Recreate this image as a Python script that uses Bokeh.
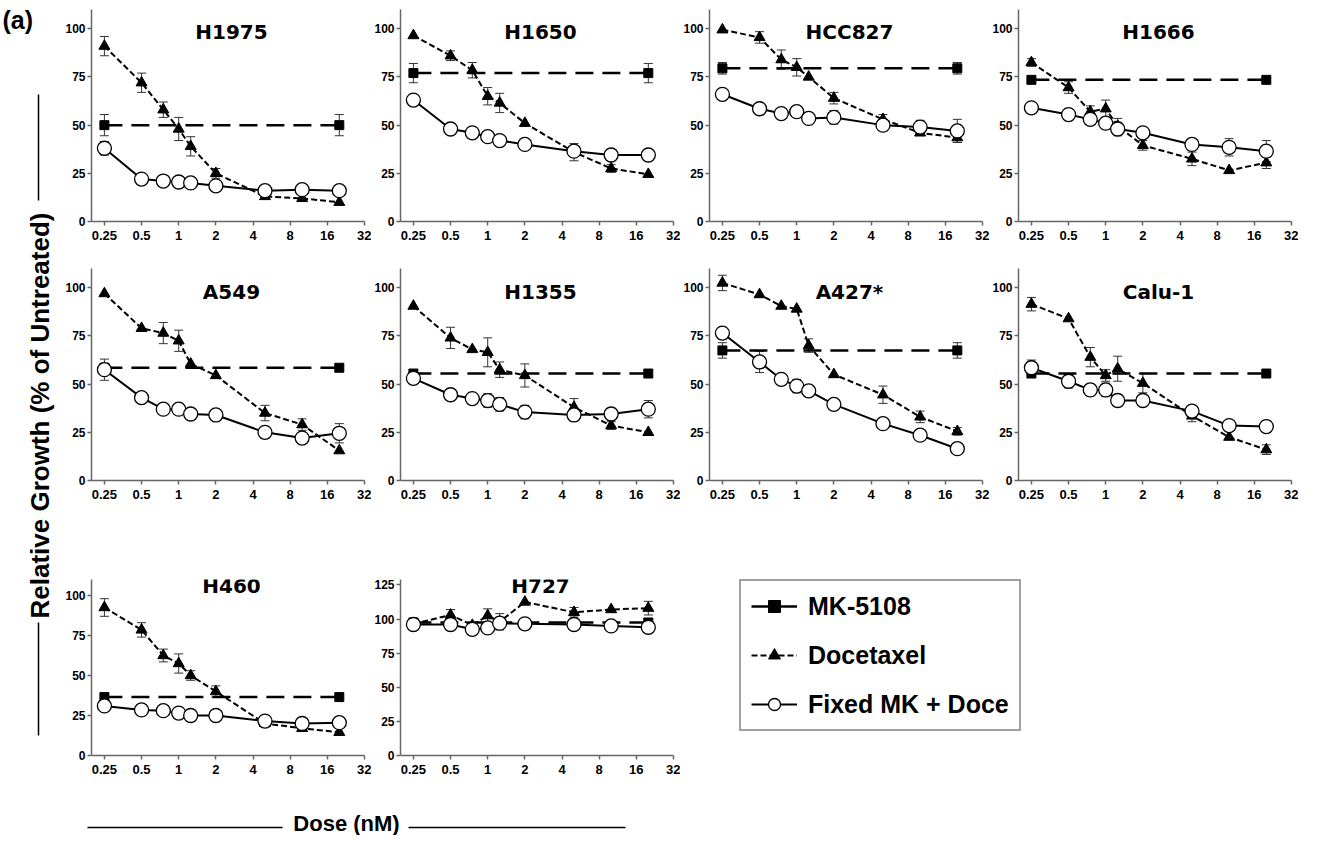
from bokeh.plotting import figure
from bokeh.layouts import row, column
from bokeh.models import (Range1d, FixedTicker, CustomJSTickFormatter, Label, Whisker,
                          TeeHead, ColumnDataSource, Legend, LegendItem)
from bokeh.embed import file_html
from bokeh.resources import INLINE

# ---------------- data ----------------
CELL_LINES = ["H1975", "H1650", "HCC827", "H1666", "A549", "H1355", "A427*", "Calu-1", "H460", "H727"]
DOSES = [0.25, 0.5, 0.75, 1, 1.25, 2, 5, 10, 20]
MK_DOSES = [0.25, 20]
X_TICKS = [0.25, 0.5, 1, 2, 4, 8, 16, 32]
Y_TICKS = [0, 25, 50, 75, 100]
Y_TICKS_H727 = [0, 25, 50, 75, 100, 125]

DOCETAXEL = [
    [91, 72, 58, 48, 39, 25, 13, 12, 10],
    [96.5, 86, 78.5, 65, 61.5, 51, 36, 27.5, 24.5],
    [99.5, 95.5, 84, 80, 75, 64, 53, 46, 43.5],
    [82.5, 69.5, 57, 58.5, 49.5, 39.5, 32.5, 26.5, 30.5],
    [97, 79, 76.5, 72.5, 60.5, 54.5, 35, 29, 15.5],
    [90.5, 74, 68, 66.5, 57.5, 54.5, 38, 28.5, 25],
    [102.5, 96.5, 90.5, 89, 70, 55, 44.5, 33, 25.5],
    [91.5, 84, 64, 54.5, 58, 50.5, 33.5, 22.5, 16],
    [92.5, 78.5, 62.5, 57.5, 50, 40, 20, 17, 14.5],
    [96.5, 103, 95.5, 102.5, 98, 112.5, 105, 107, 108],
]
DOCETAXEL_ERR = [
    [5, 5, 4, 6, 5, 2.5, 1.5, 0, 0],
    [0, 2.5, 4, 4.5, 5, 0, 4.5, 2, 0],
    [0, 3, 5, 4.5, 0, 3, 2.5, 0, 2.5],
    [2, 3, 3, 4.5, 4, 2.5, 3.5, 0, 3],
    [0, 0, 5.5, 5.5, 0, 0, 4, 3, 0],
    [0, 5.5, 0, 7.5, 4, 6, 4.5, 2, 0],
    [4, 0, 0, 0, 3.5, 0, 4.5, 3, 2],
    [3.5, 0, 5, 3, 6.5, 5, 3, 0, 2.5],
    [5.5, 4.5, 4, 6, 3, 3.5, 0, 0, 0],
    [0, 4, 0, 5, 6, 0, 3.5, 0, 5],
]
FIXED = [
    [38, 22, 21, 20.5, 20, 18.5, 16, 16.5, 16],
    [63, 48, 46, 44, 42, 40, 36.5, 34.5, 34.5],
    [66, 58.5, 56, 57, 53.5, 54, 50, 49, 47],
    [59, 55.5, 53, 51, 48, 46, 40, 38.5, 36.5],
    [57.5, 43, 37, 37, 34.5, 34, 25, 22, 24.5],
    [53, 44.5, 42.5, 41.5, 39.5, 35.5, 34, 34.5, 37],
    [76.5, 61.5, 52.5, 49, 46.5, 39.5, 29.5, 23.5, 16.5],
    [58.5, 51.5, 47, 47, 41.5, 41.5, 36, 28.5, 28],
    [31, 28.5, 28, 26.5, 25, 25, 21.5, 20, 20.5],
    [96, 96, 92.5, 93.5, 97, 96.5, 96, 95, 94],
]
FIXED_ERR = [
    [3.5, 0, 0, 0, 0, 0, 0, 0, 0],
    [0, 0, 0, 0, 0, 0, 0, 0, 0],
    [0, 0, 0, 0, 2.5, 3.5, 3, 3.5, 6],
    [0, 3, 2.5, 3, 3.5, 0, 3, 4.5, 5.5],
    [5.5, 0, 0, 0, 0, 2.5, 3, 0, 5],
    [3, 0, 2.5, 3.5, 3.5, 3.5, 3, 3, 4.5],
    [3, 5.5, 0, 3.5, 0, 0, 0, 0, 0],
    [4, 3.5, 3, 3.5, 3, 0, 2, 0, 3],
    [0, 0, 0, 0, 0, 0, 0, 0, 0],
    [4, 0, 4, 0, 0, 0, 0, 3.5, 3.5],
]
MK5108 = [50, 77, 79.5, 73.5, 58.5, 55.5, 67.5, 55.5, 36.5, 97.5]
MK5108_ERR = [5.5, 5, 3, 0, 0, 2, 4, 0, 0, 2.5]

LEGEND_LABELS = ["MK-5108", "Docetaxel", "Fixed MK + Doce"]

# ---------------- layout / style ----------------
FONT = "Liberation Sans"
TITLE_FONT = "DejaVu Sans"
AX_COLOR = "#666666"
FRAME_W = 275
BORDER_L = 27
BORDER_R = 7
LEAD_PX = 13
OCTAVE_PX = (FRAME_W - LEAD_PX) / 7.0
X_MIN = X_TICKS[0] * 2 ** (-LEAD_PX / OCTAVE_PX)
X_MAX = X_TICKS[-1]
NAN = float("nan")

# per row: (min_border_top, frame_height, min_border_bottom, title offset px from frame top)
ROW_GEOM = [(9, 212, 46, 22), (1, 212, 48, 23), (11, 216, 40, 8)]
LEFT_W = 62


def add_errors(p, xs, ys, errs):
    pts = [(x, y, e) for x, y, e in zip(xs, ys, errs) if e > 0]
    if not pts:
        return
    src = ColumnDataSource(dict(
        x=[a for a, _, _ in pts],
        upper=[b + c for _, b, c in pts],
        lower=[b - c for _, b, c in pts],
    ))
    w = Whisker(source=src, base="x", upper="upper", lower="lower",
                line_color="#333333", line_width=1,
                upper_head=TeeHead(size=9, line_color="#333333", line_width=1),
                lower_head=TeeHead(size=9, line_color="#333333", line_width=1))
    p.add_layout(w)


def make_panel(i, geom):
    top, fh, bottom, title_off = geom
    name = CELL_LINES[i]
    is_h727 = name == "H727"
    ymax = 129 if is_h727 else 110
    p = figure(x_axis_type="log", x_range=Range1d(X_MIN, X_MAX), y_range=Range1d(0, ymax),
               width=BORDER_L + FRAME_W + BORDER_R, height=top + fh + bottom,
               min_border_left=BORDER_L, min_border_right=BORDER_R,
               min_border_top=top, min_border_bottom=bottom,
               toolbar_location=None, output_backend="svg",
               outline_line_color=None, background_fill_color="white",
               border_fill_color="white", align="start")
    p.xgrid.visible = False
    p.ygrid.visible = False

    p.xaxis.ticker = FixedTicker(ticks=X_TICKS)
    p.xaxis.formatter = CustomJSTickFormatter(code="return tick.toString();")
    p.yaxis.ticker = FixedTicker(ticks=Y_TICKS_H727 if is_h727 else Y_TICKS)
    for ax in (p.xaxis, p.yaxis):
        ax.axis_line_color = AX_COLOR
        ax.axis_line_width = 1.5
        ax.major_tick_line_color = AX_COLOR
        ax.major_tick_line_width = 1.5
        ax.major_tick_out = 4
        ax.major_tick_in = 0
        ax.minor_tick_line_color = None
        ax.major_label_text_font = FONT
        ax.major_label_text_font_style = "bold"
        ax.major_label_text_color = "black"
    p.xaxis.major_label_text_font_size = "13px"
    p.yaxis.major_label_text_font_size = "12px"
    p.xaxis.major_label_standoff = 5
    p.yaxis.major_label_standoff = 2

    # error bars
    add_errors(p, MK_DOSES, [MK5108[i]] * 2, [MK5108_ERR[i]] * 2)
    add_errors(p, DOSES, DOCETAXEL[i], DOCETAXEL_ERR[i])
    add_errors(p, DOSES, FIXED[i], FIXED_ERR[i])

    # lines
    p.line(MK_DOSES, [MK5108[i]] * 2, line_color="black", line_width=2.5, line_dash="18 9")
    p.line(DOSES, DOCETAXEL[i], line_color="black", line_width=2, line_dash="6 3")
    p.line(DOSES, FIXED[i], line_color="black", line_width=2)
    # markers
    p.scatter(MK_DOSES, [MK5108[i]] * 2, marker="square", size=9,
              fill_color="black", line_color="black")
    p.scatter(DOSES, DOCETAXEL[i], marker="triangle", size=11,
              fill_color="black", line_color="black")
    p.scatter(DOSES, FIXED[i], marker="circle", size=14,
              fill_color="white", line_color="black", line_width=1.3)

    # panel title
    tx = X_MIN * 2 ** (141 / OCTAVE_PX)
    ty = ymax - title_off * ymax / fh
    p.add_layout(Label(x=tx, y=ty, text=name, text_align="center", text_baseline="middle",
                       text_font=TITLE_FONT, text_font_size="20px", text_font_style="bold",
                       text_color="black"))
    return p


panels = []
for i in range(len(CELL_LINES)):
    geom = ROW_GEOM[i // 4]
    panels.append(make_panel(i, geom))

# ---------------- legend figure ----------------
r3_top, r3_fh, r3_bot, _ = ROW_GEOM[2]
lg = figure(width=349, height=r3_top + r3_fh + r3_bot,
            min_border_left=59, min_border_right=0,
            min_border_top=51, min_border_bottom=0,
            x_range=Range1d(0, 1), y_range=Range1d(0, 1),
            x_axis_location=None, y_axis_location=None,
            toolbar_location=None, output_backend="svg", outline_line_color=None,
            align="start")
lg.xgrid.visible = False
lg.ygrid.visible = False
r_mk_l = lg.line(x=[NAN], y=[NAN], line_color="black", line_width=2.5)
r_mk_m = lg.scatter(x=[NAN], y=[NAN], marker="square", fill_color="black", line_color="black")
r_dc_l = lg.line(x=[NAN], y=[NAN], line_color="black", line_width=2, line_dash="6 3")
r_dc_m = lg.scatter(x=[NAN], y=[NAN], marker="triangle", fill_color="black", line_color="black")
r_fx_l = lg.line(x=[NAN], y=[NAN], line_color="black", line_width=2)
r_fx_m = lg.scatter(x=[NAN], y=[NAN], marker="circle", fill_color="white", line_color="black",
                    line_width=1.3)
legend = Legend(items=[
    LegendItem(label=LEGEND_LABELS[0], renderers=[r_mk_l, r_mk_m]),
    LegendItem(label=LEGEND_LABELS[1], renderers=[r_dc_l, r_dc_m]),
    LegendItem(label=LEGEND_LABELS[2], renderers=[r_fx_l, r_fx_m]),
], location="top_left", margin=0, padding=10, spacing=19,
    glyph_width=46, glyph_height=30, label_height=30, label_standoff=11,
    label_text_font=FONT, label_text_font_size="25px", label_text_font_style="bold",
    label_text_color="black",
    border_line_color="#444444", border_line_width=2, background_fill_color="white")
lg.add_layout(legend)

# ---------------- left label strip ----------------
TOTAL_H = sum(t + f + b for t, f, b, _ in ROW_GEOM)
left = figure(width=LEFT_W, height=TOTAL_H, min_border=0,
              x_range=Range1d(0, LEFT_W), y_range=Range1d(0, TOTAL_H),
              x_axis_location=None, y_axis_location=None,
              toolbar_location=None, output_backend="svg", outline_line_color=None,
              align="start")
left.xgrid.visible = False
left.ygrid.visible = False
left.segment(x0=[38, 38], y0=[TOTAL_H - 200, TOTAL_H - 735],
             x1=[38, 38], y1=[TOTAL_H - 94, TOTAL_H - 622],
             line_color="black", line_width=1.5)
left.add_layout(Label(x=39, y=TOTAL_H - 415, text="Relative Growth (% of Untreated)",
                      angle=90, angle_units="deg", text_align="center", text_baseline="middle",
                      text_font=FONT, text_font_size="26px", text_font_style="bold",
                      text_color="black"))
left.add_layout(Label(x=2, y=TOTAL_H - 19, text="(a)", text_align="left", text_baseline="middle",
                      text_font=FONT, text_font_size="25px", text_font_style="bold",
                      text_color="black"))

# ---------------- bottom label strip ----------------
BOT_W, BOT_H = 700, 40
bottom = figure(width=BOT_W, height=BOT_H, min_border=0,
                x_range=Range1d(0, BOT_W), y_range=Range1d(0, BOT_H),
                x_axis_location=None, y_axis_location=None,
                toolbar_location=None, output_backend="svg", outline_line_color=None,
                align="start")
bottom.xgrid.visible = False
bottom.ygrid.visible = False
bottom.segment(x0=[87, 408], y0=[8, 8], x1=[282, 625], y1=[8, 8],
               line_color="black", line_width=1.5)
bottom.add_layout(Label(x=346, y=12, text="Dose (nM)", text_align="center",
                        text_baseline="middle", text_font=FONT, text_font_size="22px",
                        text_font_style="bold", text_color="black"))

grid = column(
    row(*panels[0:4]),
    row(*panels[4:8]),
    row(panels[8], panels[9], lg),
)
root = column(row(left, grid), bottom)

open("out.html", "w").write(file_html(root, INLINE))
